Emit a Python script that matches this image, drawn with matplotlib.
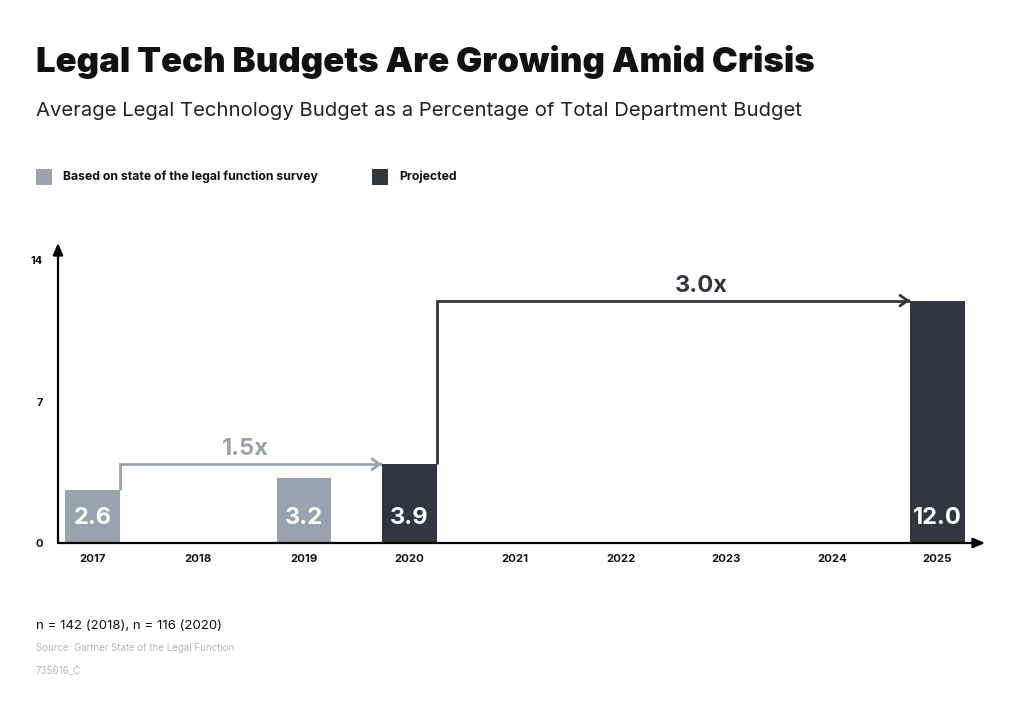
import matplotlib
matplotlib.use("Agg")
import matplotlib.pyplot as plt

plt.rcParams["font.family"] = ["Inter", "DejaVu Sans"]

# Data
years = ["2017", "2018", "2019", "2020", "2021", "2022", "2023", "2024", "2025"]
budget = [2.6, None, 3.2, 3.9, None, None, None, None, 12.0]
kind = ["survey", None, "survey", "projected", None, None, None, None, "projected"]
y_ticks = [0, 7, 14]
growth_steps = [(0, 3, "1.5x"), (3, 8, "3.0x")]
label_frac = [0.476, 0.558]   # where the growth label sits along its arrow

C_SURVEY = "#9aa2ad"
C_PROJ = "#32363f"
C_TEXT = "#111111"
C_SOURCE = "#b3b8c0"

fig = plt.figure(figsize=(10.24, 7.04), dpi=100)
fig.patch.set_facecolor("white")

# Header
fig.text(36/1024, 1 - 62/704, "Legal Tech Budgets Are Growing Amid Crisis",
         fontsize=25, fontweight="black", color=C_TEXT, va="center", ha="left")
fig.text(36/1024, 1 - 111/704,
         "Average Legal Technology Budget as a Percentage of Total Department Budget",
         fontsize=14.6, color="#222222", va="center", ha="left")

# Legend
def legend_item(x_px, color, label):
    fig.patches.append(plt.Rectangle((x_px/1024, 1 - 185/704), 16/1024, 16/704,
                                     transform=fig.transFigure, facecolor=color,
                                     edgecolor="none"))
    fig.text((x_px + 27)/1024, 1 - 177/704, label, fontsize=8.8, fontweight="bold",
             color=C_TEXT, va="center", ha="left")

legend_item(36, C_SURVEY, "Based on state of the legal function survey")
legend_item(372, C_PROJ, "Projected")

# Chart
ax = fig.add_axes([58/1024, 1 - 543/704, (985 - 58)/1024, (543 - 243)/704])
ax.set_xlim(-0.33, 8.45)
ax.set_ylim(0, 14.85)
for s in ax.spines.values():
    s.set_visible(False)

W = 0.52
xs = list(range(len(years)))
for i, (v, k) in enumerate(zip(budget, kind)):
    if v is None:
        continue
    c = C_SURVEY if k == "survey" else C_PROJ
    ax.bar(i, v, width=W, color=c, zorder=2)
    ax.text(i, 1.22, f"{v:.1f}", color="white", fontsize=17, fontweight="bold",
            ha="center", va="center", zorder=3)

# Growth arrows
for (a, b, lab), f in zip(growth_steps, label_frac):
    c = C_SURVEY if kind[a] == "survey" else C_PROJ
    xa = a + W/2
    xb = b - W/2
    ax.plot([xa, xa, xb], [budget[a], budget[b], budget[b]], color=c, lw=2,
            zorder=1, solid_joinstyle="miter", solid_capstyle="butt")
    ax.annotate("", xy=(xb, budget[b]), xytext=(xb - 0.02, budget[b]),
                arrowprops=dict(arrowstyle="->,head_length=0.55,head_width=0.38",
                                color=c, lw=2, shrinkA=0, shrinkB=0))
    ax.text(xa + f * (xb - xa), budget[b] + 0.2, lab, color=c,
            fontsize=17, fontweight="bold", ha="center", va="bottom")

# Axes with arrows
ax.annotate("", xy=(1, 0), xytext=(0, 0), xycoords="axes fraction",
            arrowprops=dict(arrowstyle="-|>,head_length=0.7,head_width=0.3",
                            color="black", lw=1.6, shrinkA=0, shrinkB=0))
ax.annotate("", xy=(0, 1), xytext=(0, 0), xycoords="axes fraction",
            arrowprops=dict(arrowstyle="-|>,head_length=0.7,head_width=0.3",
                            color="black", lw=1.6, shrinkA=0, shrinkB=0))

ax.set_xticks(xs)
ax.set_xticklabels(years, fontsize=8.2, fontweight="bold", color=C_TEXT)
ax.set_yticks(y_ticks)
ax.set_yticklabels([str(t) for t in y_ticks], fontsize=8, fontweight="bold", color=C_TEXT)
ax.tick_params(axis="both", length=0)
ax.tick_params(axis="x", pad=8)
ax.tick_params(axis="y", pad=11)

# Footer
fig.text(36/1024, 1 - 626/704, "n = 142 (2018), n = 116 (2020)", fontsize=9.5,
         color=C_TEXT, va="center", ha="left")
fig.text(36/1024, 1 - 648/704, "Source: Gartner State of the Legal Function",
         fontsize=7, color=C_SOURCE, va="center", ha="left")
fig.text(36/1024, 1 - 670/704, "735616_C", fontsize=7, color=C_SOURCE,
         va="center", ha="left")

fig.savefig("out.png", dpi=100, facecolor="white")
